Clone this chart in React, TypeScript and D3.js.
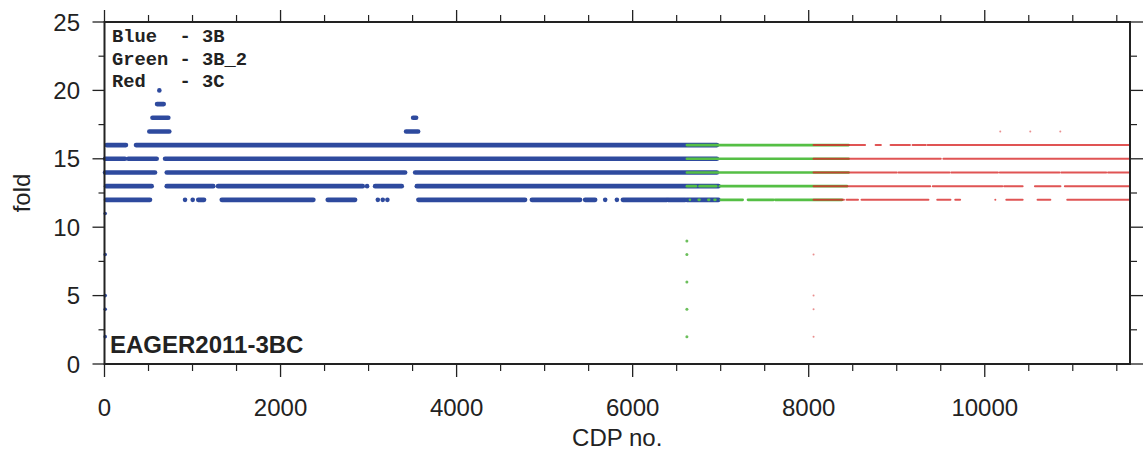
import React from "react";
import * as d3 from "d3";

// [fold, cdpStart, cdpEnd]
const blueRuns: [number, number, number][] = [
  [16, 25, 244], [16, 358, 6957],
  [15, 6, 233], [15, 270, 593], [15, 688, 6957],
  [14, 6, 574], [14, 707, 3415], [14, 3529, 6957],
  [13, 17, 536], [13, 707, 1236], [13, 1290, 2934], [13, 2983, 2983], [13, 3074, 3377], [13, 3548, 6975],
  [12, 17, 517], [12, 915, 915], [12, 1002, 1002], [12, 1065, 1131], [12, 1332, 2373], [12, 2536, 2847],
  [12, 3105, 3105], [12, 3161, 3161], [12, 3214, 3214], [12, 3566, 4778], [12, 4855, 5403],
  [12, 5460, 5574], [12, 5688, 5688], [12, 5821, 5821], [12, 5889, 6389], [12, 6404, 6597], [12, 6616, 6975],
  [17, 509, 736], [17, 3426, 3563],
  [18, 545, 725], [18, 3506, 3540],
  [19, 597, 673],
  [20, 623, 623],
];
const bluePoints: [number, number][] = [[8, 11], [8, 8], [8, 5], [8, 4], [8, 2]];

const greenRuns: [number, number, number][] = [
  [16, 6616, 8453], [15, 6616, 8453], [14, 6616, 8453],
  [13, 6616, 6720], [13, 6760, 6950], [13, 6990, 8435],
  [12, 6650, 6650], [12, 6750, 6760], [12, 6860, 6870], [12, 6930, 6940],
  [12, 7000, 7250], [12, 7310, 7600], [12, 7620, 8378],
];
const greenPoints: [number, number][] = [[6616, 9], [6616, 8], [6616, 6], [6616, 4], [6616, 2]];

const redRuns: [number, number, number][] = [
  [16, 8055, 8640], [16, 8760, 8820], [16, 8930, 9150], [16, 9180, 9330], [16, 9350, 11650],
  [15, 8055, 9500], [15, 9530, 11650],
  [14, 8055, 9000], [14, 9020, 9600], [14, 9620, 10150], [14, 10170, 10850], [14, 10870, 11380], [14, 11400, 11650],
  [13, 8055, 9380], [13, 9410, 10200], [13, 10220, 10430], [13, 10570, 10860], [13, 10910, 11650],
  [12, 8055, 8400], [12, 8430, 8560], [12, 8600, 9360], [12, 9460, 9610], [12, 9665, 9720],
  [12, 10120, 10120], [12, 10245, 10430], [12, 10600, 10745], [12, 10937, 11650],
];
const redPoints: [number, number][] = [
  [8055, 8], [8055, 5], [8055, 4], [8055, 2],
  [10176, 17], [10517, 17], [10858, 17],
];

const xMajorTicks = [0, 2000, 4000, 6000, 8000, 10000];
const yMajorTicks = [0, 5, 10, 15, 20, 25];
const legendLines = ["Blue  - 3B", "Green - 3B_2", "Red   - 3C"];
const title = "EAGER2011-3BC";
const xLabel = "CDP no.";
const yLabel = "fold";

const W = 1143, H = 455;
const L = 104.5, R = 1130, T = 22, B = 364;

export default function App() {
  const x = d3.scaleLinear().domain([0, 11650]).range([L, R]);
  const y = d3.scaleLinear().domain([0, 25]).range([B, T]);
  const xMinor = d3.range(0, 11650, 500).filter((v) => v % 2000 !== 0);
  const yMinor = d3.range(2.5, 25, 5);
  const sans = "'Liberation Sans', Arial, Helvetica, sans-serif";
  const ink = "#222";

  const runs = (data: [number, number, number][], color: string, w: number, extra: any = {}) =>
    data.map(([f, a, b], i) => (
      <line key={i} x1={x(a)} x2={x(b)} y1={y(f)} y2={y(f)} stroke={color} strokeWidth={w} strokeLinecap="round" {...extra} />
    ));

  return (
    <svg width={W} height={H} style={{ position: "absolute", left: 0, top: 0, background: "#fff" }}>
      <rect x={0} y={0} width={W} height={H} fill="#fff" />
      <g>{runs(blueRuns, "#2e4a9e", 4.6)}</g>
      {bluePoints.map(([c, f], i) => (
        <circle key={i} cx={x(c)} cy={y(f)} r={1.8} fill="#2e4a9e" />
      ))}
      <g>{runs(greenRuns, "#55bf45", 2.6)}</g>
      {greenPoints.map(([c, f], i) => (
        <circle key={i} cx={x(c)} cy={y(f)} r={1.5} fill="#6cbf5c" />
      ))}
      <g opacity={0.8}>{runs(redRuns, "#d92a2a", 2)}</g>
      {redPoints.map(([c, f], i) => (
        <circle key={i} cx={x(c)} cy={y(f)} r={1} fill="#e06060" opacity={0.7} />
      ))}

      {/* frame */}
      <rect x={L} y={T} width={R - L} height={B - T} fill="none" stroke={ink} strokeWidth={2} />

      {/* x ticks */}
      {xMajorTicks.map((v) => (
        <g key={"xm" + v}>
          <line x1={x(v)} x2={x(v)} y1={B} y2={B + 13} stroke={ink} strokeWidth={1.3} />
          <line x1={x(v)} x2={x(v)} y1={T} y2={T - 12} stroke={ink} strokeWidth={1.3} />
          <text x={x(v)} y={416} textAnchor="middle" fontFamily={sans} fontSize={24} fill={ink}>
            {v}
          </text>
        </g>
      ))}
      {xMinor.map((v) => (
        <g key={"xn" + v}>
          <line x1={x(v)} x2={x(v)} y1={B} y2={B + 7} stroke={ink} strokeWidth={1.2} />
          <line x1={x(v)} x2={x(v)} y1={T} y2={T - 7} stroke={ink} strokeWidth={1.2} />
        </g>
      ))}

      {/* y ticks */}
      {yMajorTicks.map((v) => (
        <g key={"ym" + v}>
          <line x1={L} x2={L - 12} y1={y(v)} y2={y(v)} stroke={ink} strokeWidth={1.3} />
          <line x1={R} x2={R + 13} y1={y(v)} y2={y(v)} stroke={ink} strokeWidth={1.3} />
          <text x={80} y={y(v) + 8.6} textAnchor="end" fontFamily={sans} fontSize={24} fill={ink}>
            {v}
          </text>
        </g>
      ))}
      {yMinor.map((v) => (
        <g key={"yn" + v}>
          <line x1={L} x2={L - 6} y1={y(v)} y2={y(v)} stroke={ink} strokeWidth={1.2} />
          <line x1={R} x2={R + 7} y1={y(v)} y2={y(v)} stroke={ink} strokeWidth={1.2} />
        </g>
      ))}

      {/* axis labels */}
      <text x={(L + R) / 2} y={446} textAnchor="middle" fontFamily={sans} fontSize={24} fill={ink}>
        {xLabel}
      </text>
      <text transform={`translate(30, ${(T + B) / 2}) rotate(-90)`} textAnchor="middle" fontFamily={sans} fontSize={24} fill={ink}>
        {yLabel}
      </text>

      {/* legend */}
      {legendLines.map((s, i) => (
        <text key={s} x={112} y={42 + i * 22.5} fontFamily="'Liberation Mono', 'Courier New', monospace" fontSize={18.75} fontWeight="bold" fill={ink} style={{ whiteSpace: "pre" }}>
          {s}
        </text>
      ))}
      <text x={110} y={353} fontFamily={sans} fontSize={24} fontWeight="bold" fill={ink}>
        {title}
      </text>
    </svg>
  );
}
